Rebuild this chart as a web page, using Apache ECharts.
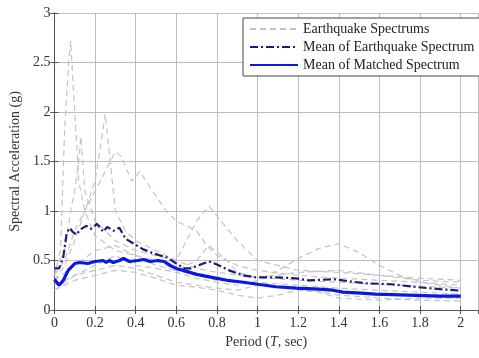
<!DOCTYPE html>
<html><head><meta charset="utf-8">
<script src="https://cdn.jsdelivr.net/npm/echarts@6/dist/echarts.min.js"></script>
<style>html,body{margin:0;padding:0;background:#fff}#c{width:479px;height:358px}</style>
</head><body><div id="c"></div>
<script>
// Individual earthquake spectra [T, Sa]
const eqA = [[0,0.35],[0.03,0.6],[0.05,1.8],[0.07,2.5],[0.08,2.72],[0.1,2.0],[0.12,1.3],[0.15,1.0],[0.2,0.75],[0.3,0.6],[0.4,0.55],[0.5,0.5],[0.6,0.4],[0.7,0.35],[0.8,0.3],[1.0,0.28],[1.2,0.25],[1.4,0.22],[1.6,0.2],[1.8,0.18],[2.0,0.16]];
const eqB = [[0,0.3],[0.05,0.45],[0.1,0.7],[0.15,1.0],[0.2,1.3],[0.23,1.7],[0.25,1.98],[0.28,1.4],[0.3,1.0],[0.35,0.8],[0.4,0.7],[0.5,0.6],[0.6,0.5],[0.7,0.42],[0.8,0.38],[1.0,0.33],[1.2,0.3],[1.4,0.28],[1.6,0.26],[1.8,0.24],[2.0,0.22]];
const eqC = [[0,0.35],[0.05,0.5],[0.1,0.8],[0.15,1.0],[0.2,1.2],[0.25,1.4],[0.3,1.6],[0.33,1.55],[0.38,1.3],[0.42,1.4],[0.5,1.15],[0.55,1.0],[0.6,0.9],[0.7,0.8],[0.75,0.65],[0.8,0.55],[0.9,0.45],[1.0,0.4],[1.2,0.35],[1.4,0.32],[1.6,0.3],[1.8,0.28],[2.0,0.25]];
const eqD = [[0,0.4],[0.05,0.6],[0.08,1.0],[0.1,1.2],[0.12,1.5],[0.13,1.75],[0.15,1.2],[0.2,0.9],[0.3,0.7],[0.4,0.6],[0.5,0.55],[0.6,0.5],[0.65,0.7],[0.7,0.9],[0.76,1.05],[0.8,0.95],[0.9,0.7],[1.0,0.5],[1.1,0.45],[1.2,0.4],[1.4,0.38],[1.6,0.35],[1.8,0.3],[2.0,0.28]];
const eqE = [[0,0.25],[0.1,0.35],[0.2,0.45],[0.3,0.55],[0.4,0.45],[0.5,0.42],[0.6,0.38],[0.7,0.32],[0.8,0.28],[0.9,0.25],[1.0,0.3],[1.1,0.4],[1.2,0.52],[1.3,0.62],[1.4,0.67],[1.5,0.58],[1.6,0.45],[1.7,0.35],[1.8,0.28],[2.0,0.22]];
const eqF = [[0,0.2],[0.1,0.3],[0.2,0.35],[0.3,0.4],[0.4,0.38],[0.5,0.32],[0.6,0.25],[0.7,0.23],[0.8,0.2],[0.9,0.15],[1.0,0.12],[1.1,0.15],[1.2,0.2],[1.3,0.18],[1.4,0.12],[1.6,0.1],[1.8,0.12],[2.0,0.12]];
const eqG = [[0,0.3],[0.1,0.45],[0.2,0.6],[0.3,0.65],[0.4,0.55],[0.5,0.45],[0.6,0.4],[0.7,0.5],[0.76,0.65],[0.85,0.5],[0.9,0.38],[1.0,0.33],[1.2,0.38],[1.4,0.4],[1.6,0.35],[1.8,0.32],[2.0,0.3]];
const eqH = [[0,0.2],[0.1,0.35],[0.2,0.4],[0.3,0.45],[0.4,0.42],[0.5,0.35],[0.6,0.28],[0.7,0.25],[0.8,0.22],[0.9,0.2],[1.0,0.25],[1.2,0.22],[1.4,0.15],[1.6,0.12],[1.8,0.1],[2.0,0.09]];
const earthquakes = [eqA, eqB, eqC, eqD, eqE, eqF, eqG, eqH];

// Mean of earthquake spectrum
const meanEq = [[0,0.42],[0.023,0.42],[0.044,0.54],[0.06,0.77],[0.076,0.83],[0.09,0.79],[0.11,0.76],[0.125,0.81],[0.157,0.85],[0.18,0.82],[0.21,0.87],[0.24,0.79],[0.26,0.84],[0.29,0.8],[0.32,0.83],[0.35,0.72],[0.39,0.67],[0.44,0.61],[0.49,0.57],[0.555,0.53],[0.6,0.47],[0.64,0.42],[0.67,0.42],[0.72,0.46],[0.76,0.49],[0.8,0.46],[0.86,0.4],[0.93,0.35],[0.99,0.33],[1.09,0.33],[1.19,0.32],[1.25,0.3],[1.38,0.31],[1.45,0.29],[1.53,0.27],[1.66,0.26],[1.79,0.23],[1.9,0.21],[2.0,0.195]];

// Mean of matched spectrum
const meanMatched = [[0,0.31],[0.023,0.25],[0.044,0.3],[0.068,0.4],[0.1,0.47],[0.125,0.48],[0.165,0.47],[0.2,0.49],[0.24,0.5],[0.255,0.48],[0.27,0.5],[0.29,0.48],[0.32,0.5],[0.34,0.52],[0.37,0.49],[0.41,0.5],[0.44,0.51],[0.47,0.49],[0.51,0.5],[0.54,0.49],[0.57,0.45],[0.6,0.42],[0.65,0.39],[0.7,0.36],[0.75,0.34],[0.8,0.32],[0.85,0.3],[0.93,0.28],[1.0,0.26],[1.09,0.235],[1.19,0.22],[1.3,0.21],[1.37,0.2],[1.42,0.18],[1.51,0.17],[1.58,0.16],[1.74,0.15],[1.9,0.14],[2.0,0.14]];

const serif = 'Liberation Serif';
const series = earthquakes.map(d => ({
  name: 'Earthquake Spectrums', type: 'line', data: d, symbol: 'none', z: 1,
  lineStyle: {color: '#c4c4c4', width: 1.2, type: [6, 4]}, itemStyle: {color: '#c4c4c4'}
}));
series.push({name: 'Mean of Earthquake Spectrum', type: 'line', data: meanEq, symbol: 'none', z: 3,
  lineStyle: {color: '#1a1a80', width: 2.2, type: [8, 3, 2, 3]}, itemStyle: {color: '#1a1a80'}});
series.push({name: 'Mean of Matched Spectrum', type: 'line', data: meanMatched, symbol: 'none', z: 4,
  lineStyle: {color: '#0a18e0', width: 3.2}, itemStyle: {color: '#0a18e0'}});

const chart = echarts.init(document.getElementById('c'), null, {renderer: 'canvas'});
chart.setOption({
  animation: false,
  backgroundColor: '#fff',
  grid: {left: 49.5, right: 1, top: 13, bottom: 48},
  legend: {
    orient: 'vertical', left: 243, top: 18, padding: [4, 6, 4, 6], itemGap: 4,
    itemWidth: 48, itemHeight: 14, backgroundColor: '#fff', borderColor: '#444', borderWidth: 1,
    itemStyle: {opacity: 0},
    textStyle: {fontFamily: serif, fontSize: 14, color: '#222'},
    data: ['Earthquake Spectrums', 'Mean of Earthquake Spectrum', 'Mean of Matched Spectrum']
  },
  xAxis: [{
    type: 'value', min: 0, max: 2.085, interval: 0.2, position: 'bottom',
    name: '{n|Period (}{i|T}{n|, sec)}', nameLocation: 'middle', nameGap: 24,
    nameTextStyle: {fontFamily: serif, fontSize: 14, color: '#333',
      rich: {n: {fontFamily: serif, fontSize: 14, color: '#333'},
             i: {fontFamily: serif, fontSize: 14, color: '#333', fontStyle: 'italic'}}},
    axisLine: {show: true, lineStyle: {color: '#555'}},
    axisTick: {show: true, inside: true, length: 4, lineStyle: {color: '#555'}},
    axisLabel: {fontFamily: serif, fontSize: 14, color: '#333', margin: 6, showMaxLabel: false},
    splitLine: {show: true, lineStyle: {color: '#bdbdbd', width: 1}}
  }, {
    type: 'value', min: 0, max: 2.085, interval: 0.2, position: 'top',
    axisLine: {show: true, lineStyle: {color: '#555'}},
    axisTick: {show: true, inside: true, length: 4, lineStyle: {color: '#555'}},
    axisLabel: {show: false}, splitLine: {show: false}
  }],
  yAxis: [{
    type: 'value', min: 0, max: 3, interval: 0.5, position: 'left',
    name: 'Spectral Acceleration (g)', nameLocation: 'middle', nameGap: 30,
    nameTextStyle: {fontFamily: serif, fontSize: 14, color: '#333'},
    axisLine: {show: true, lineStyle: {color: '#555'}},
    axisTick: {show: true, inside: true, length: 4, lineStyle: {color: '#555'}},
    axisLabel: {fontFamily: serif, fontSize: 14, color: '#333', margin: 4},
    splitLine: {show: true, lineStyle: {color: '#bdbdbd', width: 1}}
  }, {
    type: 'value', min: 0, max: 3, interval: 0.5, position: 'right',
    axisLine: {show: true, lineStyle: {color: '#555'}},
    axisTick: {show: true, inside: true, length: 4, lineStyle: {color: '#555'}},
    axisLabel: {show: false}, splitLine: {show: false}
  }],
  series: series
});
</script>
</body></html>
